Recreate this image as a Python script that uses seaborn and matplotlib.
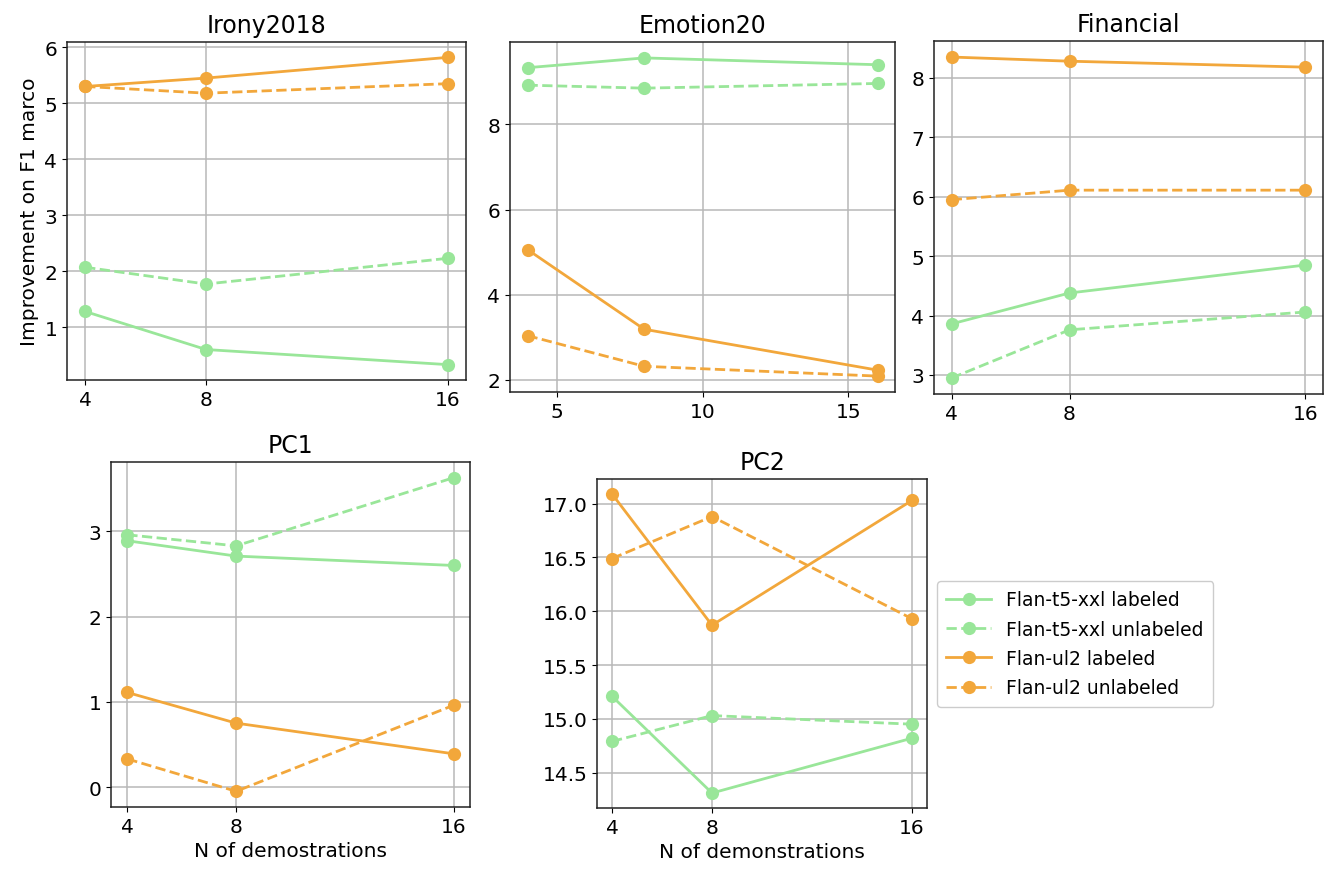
import numpy as np
import pandas as pd
import matplotlib
matplotlib.use("Agg")
import matplotlib.pyplot as plt
from matplotlib.ticker import MultipleLocator
import seaborn as sns

n_demos = [4, 8, 16]
series_names = ["Flan-t5-xxl labeled", "Flan-t5-xxl unlabeled", "Flan-ul2 labeled", "Flan-ul2 unlabeled"]

irony_t5_lab = [1.28, 0.60, 0.33]
irony_t5_unl = [2.07, 1.77, 2.23]
irony_ul2_lab = [5.30, 5.45, 5.82]
irony_ul2_unl = [5.30, 5.18, 5.35]

emotion_t5_lab = [9.33, 9.56, 9.40]
emotion_t5_unl = [8.92, 8.85, 8.96]
emotion_ul2_lab = [5.06, 3.19, 2.23]
emotion_ul2_unl = [3.04, 2.32, 2.09]

fin_t5_lab = [3.86, 4.38, 4.85]
fin_t5_unl = [2.95, 3.76, 4.06]
fin_ul2_lab = [8.35, 8.28, 8.18]
fin_ul2_unl = [5.95, 6.11, 6.11]

pc1_t5_lab = [2.89, 2.71, 2.60]
pc1_t5_unl = [2.96, 2.83, 3.63]
pc1_ul2_lab = [1.11, 0.75, 0.39]
pc1_ul2_unl = [0.33, -0.05, 0.96]

pc2_t5_lab = [15.21, 14.31, 14.82]
pc2_t5_unl = [14.79, 15.03, 14.95]
pc2_ul2_lab = [17.09, 15.87, 17.03]
pc2_ul2_unl = [16.49, 16.88, 15.93]

titles = ["Irony2018", "Emotion20", "Financial", "PC1", "PC2"]
panels = [
    [irony_t5_lab, irony_t5_unl, irony_ul2_lab, irony_ul2_unl],
    [emotion_t5_lab, emotion_t5_unl, emotion_ul2_lab, emotion_ul2_unl],
    [fin_t5_lab, fin_t5_unl, fin_ul2_lab, fin_ul2_unl],
    [pc1_t5_lab, pc1_t5_unl, pc1_ul2_lab, pc1_ul2_unl],
    [pc2_t5_lab, pc2_t5_unl, pc2_ul2_lab, pc2_ul2_unl],
]

GREEN = "#99E699"
ORANGE = "#F2A73B"
colors = [GREEN, GREEN, ORANGE, ORANGE]
styles = ["-", "--", "-", "--"]

plt.rcParams["font.family"] = ["DejaVu Sans"]
plt.rcParams["font.size"] = 14

W, H = 1333, 878
fig = plt.figure(figsize=(W / 100, H / 100), dpi=100)

# pixel boxes: left, top, right, bottom
boxes = [
    (67, 43, 466, 381),
    (510, 43, 895, 393),
    (934, 42, 1323, 395),
    (111, 463, 470, 808),
    (597, 480, 927, 809),
]

axes = []
for i, (l, t, r, b) in enumerate(boxes):
    ax = fig.add_axes([l / W, 1 - b / H, (r - l) / W, (b - t) / H])
    axes.append(ax)
    for k in range(4):
        df = pd.DataFrame({"n": n_demos, "v": panels[i][k]})
        sns.lineplot(data=df, x="n", y="v", ax=ax, color=colors[k], linestyle=styles[k],
                     marker="o", markersize=9.5, markeredgewidth=0, linewidth=2,
                     label=series_names[k])
    ax.grid(True, color="#b8b8b8", linewidth=1.1)
    ax.set_axisbelow(True)
    ax.set_title(titles[i], fontsize=17, pad=7)
    ax.tick_params(labelsize=14.5)
    for s in ax.spines.values():
        s.set_color("#222222")
        s.set_linewidth(1.1)
    if i != 1:
        ax.set_xticks(n_demos)
    ax.set_xlabel("")
    ax.set_ylabel("")
    ax.get_legend().remove()

axes[1].xaxis.set_major_locator(MultipleLocator(5))
axes[1].yaxis.set_major_locator(MultipleLocator(2))
axes[3].yaxis.set_major_locator(MultipleLocator(1))

axes[0].set_ylabel("Improvement on F1 marco", fontsize=14.5)
axes[3].set_xlabel("N of demostrations", fontsize=14.5)
axes[4].set_xlabel("N of demonstrations", fontsize=14.5)

handles, labels = axes[0].get_legend_handles_labels()
fig.legend(handles, labels, loc="upper left",
           bbox_to_anchor=(937 / W, 1 - 582 / H), borderaxespad=0, fontsize=13.5,
           frameon=True, framealpha=1, edgecolor="#cccccc",
           handlelength=2.4, borderpad=0.5, labelspacing=0.55)

fig.savefig("out.png", dpi=100)
